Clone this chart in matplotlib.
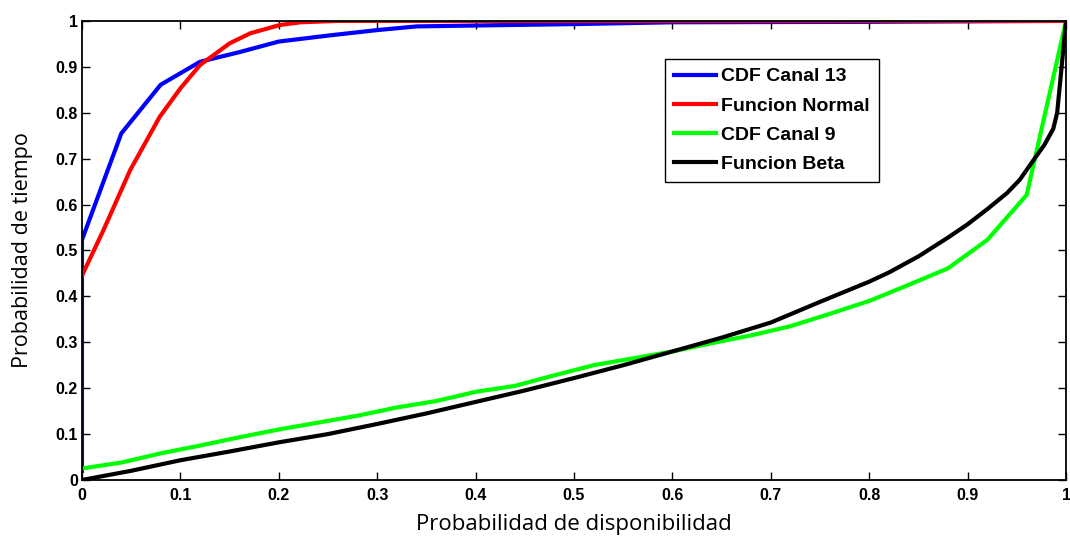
import matplotlib
matplotlib.use("Agg")
import matplotlib.pyplot as plt

# CDF Canal 13 (blue)
x_c13 = [0, 0, 0.04, 0.08, 0.12, 0.16, 0.2, 0.25, 0.3, 0.34, 0.4, 0.5, 0.6, 0.8, 1.0]
y_c13 = [0.02, 0.523, 0.755, 0.861, 0.911, 0.932, 0.955, 0.968, 0.98, 0.988, 0.99, 0.993, 0.997, 0.998, 1.0]

# Funcion Normal (red)
x_norm = [0, 0.022, 0.049, 0.079, 0.1, 0.12, 0.15, 0.171, 0.201, 0.222, 0.26, 0.3, 1.0]
y_norm = [0.445, 0.545, 0.675, 0.791, 0.853, 0.904, 0.951, 0.973, 0.991, 0.997, 1.0, 1.0, 1.0]

# CDF Canal 9 (green)
x_c9 = [0, 0.04, 0.08, 0.12, 0.16, 0.2, 0.24, 0.28, 0.32, 0.36, 0.4, 0.44, 0.48,
        0.52, 0.56, 0.6, 0.64, 0.68, 0.72, 0.76, 0.8, 0.84, 0.88, 0.92, 0.96, 1.0]
y_c9 = [0.025, 0.038, 0.058, 0.075, 0.093, 0.11, 0.125, 0.14, 0.158, 0.172, 0.192, 0.205, 0.228,
        0.25, 0.265, 0.28, 0.298, 0.315, 0.335, 0.362, 0.39, 0.425, 0.461, 0.523, 0.621, 1.0]

# Funcion Beta (black)
x_beta = [0, 0.05, 0.1, 0.15, 0.2, 0.25, 0.3, 0.35, 0.4, 0.45, 0.5, 0.55, 0.6, 0.65,
          0.7, 0.75, 0.8, 0.82, 0.85, 0.88, 0.9, 0.92, 0.94, 0.953, 0.967, 0.978, 0.987, 0.991, 1.0]
y_beta = [0, 0.02, 0.043, 0.062, 0.082, 0.1, 0.122, 0.145, 0.17, 0.195, 0.222, 0.25, 0.28, 0.31,
          0.343, 0.388, 0.432, 0.452, 0.487, 0.528, 0.557, 0.59, 0.625, 0.654, 0.697, 0.73, 0.765, 0.8, 1.0]

labels = ["CDF Canal 13", "Funcion Normal", "CDF Canal 9", "Funcion Beta"]
colors = ["#0000ff", "#ff0000", "#00ff00", "#000000"]
ticks = [0, 0.1, 0.2, 0.3, 0.4, 0.5, 0.6, 0.7, 0.8, 0.9, 1]
tick_labels = ["0", "0.1", "0.2", "0.3", "0.4", "0.5", "0.6", "0.7", "0.8", "0.9", "1"]

fig = plt.figure(figsize=(10.7, 5.36), dpi=100)
ax = fig.add_axes([0.0766, 0.1045, 0.9197, 0.8565])

lw = 3
ax.plot(x_c13, y_c13, color=colors[0], lw=lw, label=labels[0])
ax.plot(x_norm, y_norm, color=colors[1], lw=lw, label=labels[1])
ax.plot(x_c9, y_c9, color=colors[2], lw=lw, label=labels[2])
ax.plot(x_beta, y_beta, color=colors[3], lw=lw, label=labels[3])

ax.set_xlim(0, 1)
ax.set_ylim(0, 1)
ax.set_xticks(ticks)
ax.set_xticklabels(tick_labels)
ax.set_yticks(ticks)
ax.set_yticklabels(tick_labels)
ax.tick_params(direction="in", length=6, top=True, right=True, width=1, pad=3)
ax.tick_params(axis="x", pad=6)
for lab in ax.get_xticklabels() + ax.get_yticklabels():
    lab.set_fontfamily("Liberation Sans")
    lab.set_fontweight("bold")
    lab.set_fontsize(11.5)
for sp in ax.spines.values():
    sp.set_linewidth(1.3)

ax.set_xlabel("Probabilidad de disponibilidad", fontfamily="Open Sans", fontsize=16, labelpad=8)
ax.set_ylabel("Probabilidad de tiempo", fontfamily="Open Sans", fontsize=15.5, labelpad=16)

leg = ax.legend(loc="upper left", bbox_to_anchor=(0.5925, 0.917), borderaxespad=0,
                fancybox=False, framealpha=1, edgecolor="black", handlelength=2.15,
                handletextpad=0.3, borderpad=0.45, labelspacing=0.6,
                prop={"family": "Liberation Sans", "weight": "bold", "size": 14})
leg.get_frame().set_linewidth(1.0)

fig.savefig("out.png", dpi=100)
